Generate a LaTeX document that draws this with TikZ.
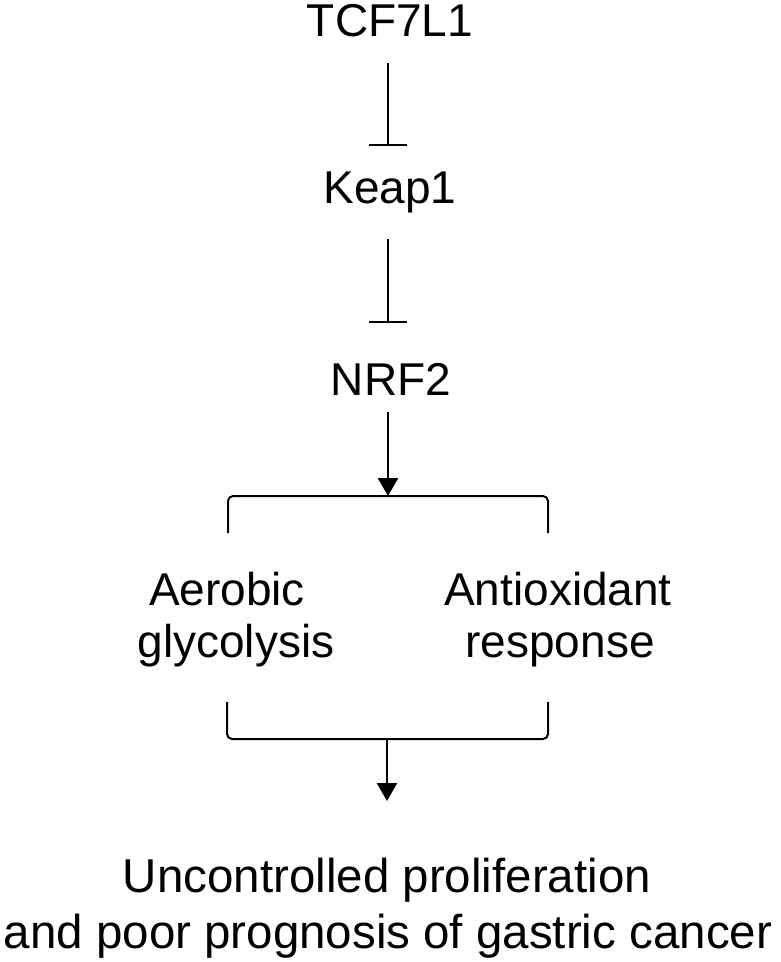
\documentclass[tikz,border=0pt]{standalone}
\usepackage{fontspec}
\setmainfont{Liberation Sans}
\usetikzlibrary{arrows.meta}
\begin{document}
\begin{tikzpicture}[x=1pt,y=-1pt,
  lbl/.style={anchor=base,inner sep=0pt,font=\fontsize{46}{52}\selectfont},
  big/.style={anchor=base,inner sep=0pt,font=\fontsize{47.5}{56}\selectfont},
  inh/.style={line width=2.2pt,-{Bar[width=38pt,line width=2.2pt]}},
  act/.style={line width=2.6pt,-{Triangle[width=20pt,length=18pt]}},
  brk/.style={line width=2pt,rounded corners=5pt}]
\useasboundingbox (0,0) rectangle (780,962);
\node[lbl] (tcf) at (390,36) {TCF7L1};
\node[lbl] (keap) at (390,203) {Keap1};
\node[lbl] (nrf) at (391,395) {NRF2};
\node[lbl] (aer1) at (227,605) {Aerobic};
\node[lbl] (aer2) at (236,657) {glycolysis};
\node[lbl] (ant1) at (558,605) {Antioxidant};
\node[lbl] (ant2) at (560,657) {response};
\node[big] (out1) at (387,892) {Uncontrolled proliferation};
\node[big] (out2) at (388,948) {and poor prognosis of gastric cancer};
\coordinate (topmid) at (388,496);
\coordinate (botmid) at (387,739);
\coordinate (outtop) at (387,801);
\draw[inh] (388,63) -- (388,146);
\draw[inh] (388,239) -- (388,323);
\draw[act] (388,412) -- (topmid);
\draw[brk] (228,533) -- (228,496) -- (topmid) -- (548,496) -- (548,533);
\draw[brk] (227,702) -- (227,739) -- (botmid) -- (548,739) -- (548,702);
\draw[act] (botmid) -- (outtop);
\end{tikzpicture}
\end{document}
